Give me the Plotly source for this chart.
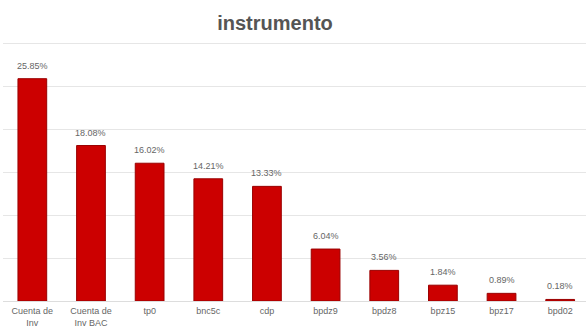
import plotly.graph_objects as go

categories = ["Cuenta de<br>Inv", "Cuenta de<br>Inv BAC", "tp0", "bnc5c", "cdp",
              "bpdz9", "bpdz8", "bpz15", "bpz17", "bpd02"]
shares = [25.85, 18.08, 16.02, 14.21, 13.33, 6.04, 3.56, 1.84, 0.89, 0.18]
share_labels = [f"{v:.2f}%" for v in shares]

positions = list(range(len(categories)))

fig = go.Figure(
    go.Bar(
        x=positions,
        y=shares,
        marker=dict(color="#cc0000", line=dict(color="#9a0000", width=1)),
        width=0.49,
        hovertemplate="%{y:.2f}%<extra></extra>",
    )
)

# value labels sitting above each bar
for xpos, val, lab in zip(positions, shares, share_labels):
    fig.add_annotation(
        x=xpos, y=val, text=lab, showarrow=False,
        yanchor="bottom", yshift=6,
        font=dict(family="Liberation Sans, Arial", size=9, color="#666666"),
    )

fig.update_layout(
    width=586,
    height=329,
    margin=dict(l=3, r=0, t=40, b=28, autoexpand=False),
    paper_bgcolor="white",
    plot_bgcolor="white",
    showlegend=False,
    title=dict(
        text="<b>instrumento</b>",
        x=275 / 586,
        xanchor="center",
        y=1 - 23 / 329,
        yanchor="middle",
        font=dict(family="Liberation Sans, Arial", size=20, color="#555555"),
    ),
    xaxis=dict(
        range=[-0.5, 9.44],
        tickmode="array",
        tickvals=positions,
        ticktext=categories,
        tickfont=dict(family="Liberation Sans, Arial", size=9, color="#666666"),
        showgrid=False,
        showline=False,
        zeroline=False,
        ticks="",
        ticklen=0,
        ticklabelstandoff=3,
        automargin=False,
    ),
    yaxis=dict(
        range=[0, 30.35],
        tickmode="array",
        tickvals=[0, 5, 10, 15, 20, 25, 30],
        showticklabels=False,
        showgrid=True,
        gridcolor="#e6e6e6",
        gridwidth=1,
        zeroline=True,
        zerolinecolor="#dddddd",
        zerolinewidth=1,
        automargin=False,
    ),
)

fig.write_html("out.html")
